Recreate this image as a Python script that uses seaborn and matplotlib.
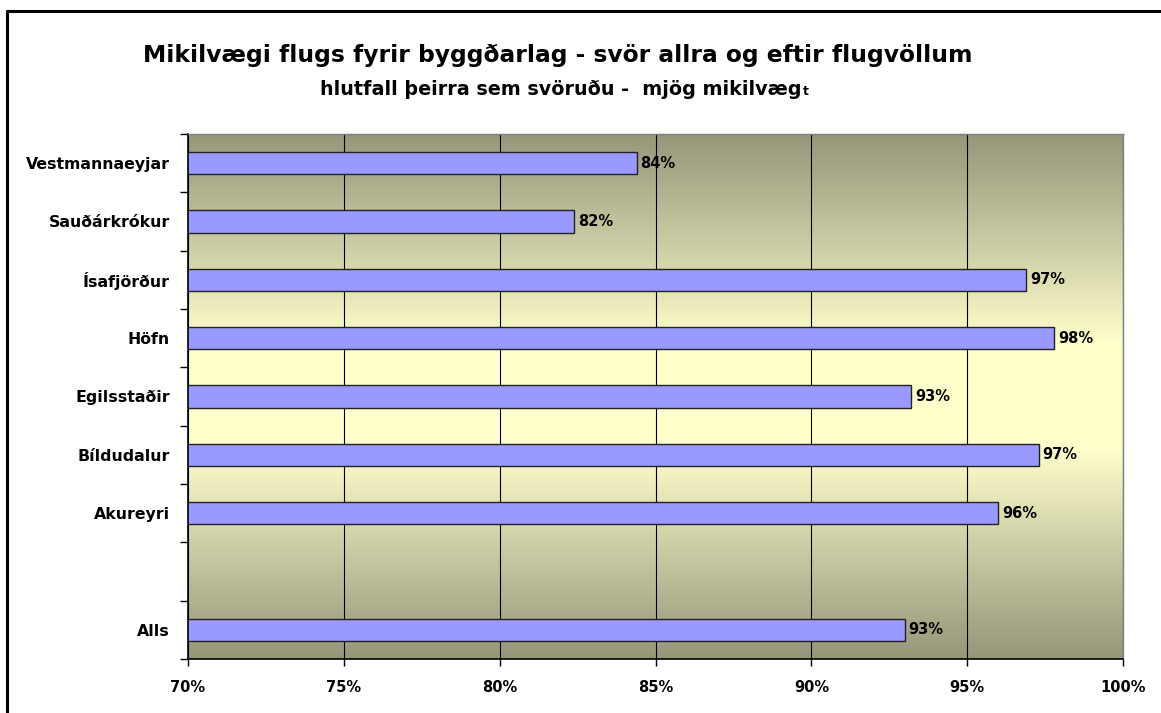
import seaborn as sns
import matplotlib.pyplot as plt
import matplotlib.ticker as mticker
from matplotlib.colors import LinearSegmentedColormap
from matplotlib.lines import Line2D
import numpy as np
import pandas as pd

# Categories (top to bottom) and share answering "very important", in %
places = ['Vestmannaeyjar', 'Sauðárkrókur', 'Ísafjörður', 'Höfn',
          'Egilsstaðir', 'Bíldudalur', 'Akureyri', 'Alls']
shares = [84.4, 82.4, 96.9, 97.8, 93.2, 97.3, 96.0, 93.0]
# empty slot between Akureyri and Alls
order = places[:7] + [''] + places[7:]

title = 'Mikilvægi flugs fyrir byggðarlag - svör allra og eftir flugvöllum'
subtitle = 'hlutfall þeirra sem svöruðu -  mjög mikilvæg'

data = pd.DataFrame({'place': places, 'share': shares})

sns.set_theme(style='white')
plt.rcParams['font.family'] = ['DejaVu Sans']
plt.rcParams['text.color'] = 'black'
plt.rcParams['xtick.color'] = 'black'
plt.rcParams['ytick.color'] = 'black'

fig = plt.figure(figsize=(11.61, 7.13), dpi=100)
ax = fig.add_axes([0.1619, 0.0757, 0.8054, 0.7364])

# vertical gradient background: olive at top/bottom, pale yellow in middle
cmap = LinearSegmentedColormap.from_list(
    'bg', ['#96967a', '#c9c9a3', '#ffffcc', '#ffffcc', '#c9c9a3', '#96967a'])
grad = np.linspace(0, 1, 256).reshape(-1, 1)
ax.imshow(grad, cmap=cmap, extent=[0, 1, 0, 1], transform=ax.transAxes,
          aspect='auto', zorder=0, interpolation='bicubic')

sns.barplot(data=data, y='place', x='share', order=order, orient='h',
            color='#9999ff', edgecolor='#222222', linewidth=1.0,
            width=0.38, saturation=1, ax=ax, zorder=2)

ax.set_xlim(70, 100)
ax.set_ylim(len(order) - 0.5, -0.5)

for i, name in enumerate(order):
    if name == '':
        continue
    v = shares[places.index(name)]
    ax.text(v + 0.12, i, f'{round(v):d}%', va='center', ha='left',
            fontsize=10.5, fontweight='bold', color='black', zorder=3)

ax.set_xticks(np.arange(70, 101, 5))
ax.xaxis.set_major_formatter(mticker.FuncFormatter(lambda v, p: f'{v:.0f}%'))
ax.grid(True, axis='x', color='black', linewidth=0.8)
ax.set_axisbelow(True)
ax.tick_params(axis='x', direction='out', length=5, width=1, color='black',
               bottom=True, pad=10, labelsize=10.5)
for lab in ax.get_xticklabels():
    lab.set_fontweight('bold')

ax.set_yticks(range(len(order)))
ax.set_yticklabels(order, fontsize=11.3, fontweight='bold')
ax.tick_params(axis='y', length=0, pad=13)
ax.set_yticks(np.arange(-0.5, len(order), 1), minor=True)
ax.tick_params(axis='y', which='minor', direction='out', length=6,
               width=1, color='black', left=True)
ax.set_xlabel('')
ax.set_ylabel('')

for s in ['left', 'bottom']:
    ax.spines[s].set_color('black')
    ax.spines[s].set_linewidth(1.2)
for s in ['top', 'right']:
    ax.spines[s].set_color('#808080')
    ax.spines[s].set_linewidth(1.0)

# titles
fig.text(558 / 1161, 1 - 62 / 713, title, ha='center', va='baseline',
         fontsize=16.8, fontweight='bold')
fig.text(802 / 1161, 1 - 95 / 713, subtitle, ha='right', va='baseline',
         fontsize=13.8, fontweight='bold')
fig.text(802.5 / 1161, 1 - 95 / 713, 't', ha='left', va='baseline',
         fontsize=9, fontweight='bold')

# frame lines on left and top of the figure
fig.add_artist(Line2D([6.5 / 1161, 6.5 / 1161], [0, 1 - 11 / 713],
                      transform=fig.transFigure, color='black', linewidth=2.2))
fig.add_artist(Line2D([6.5 / 1161, 1], [1 - 11 / 713, 1 - 11 / 713],
                      transform=fig.transFigure, color='black', linewidth=2.2))

fig.savefig('out.png', dpi=100)
